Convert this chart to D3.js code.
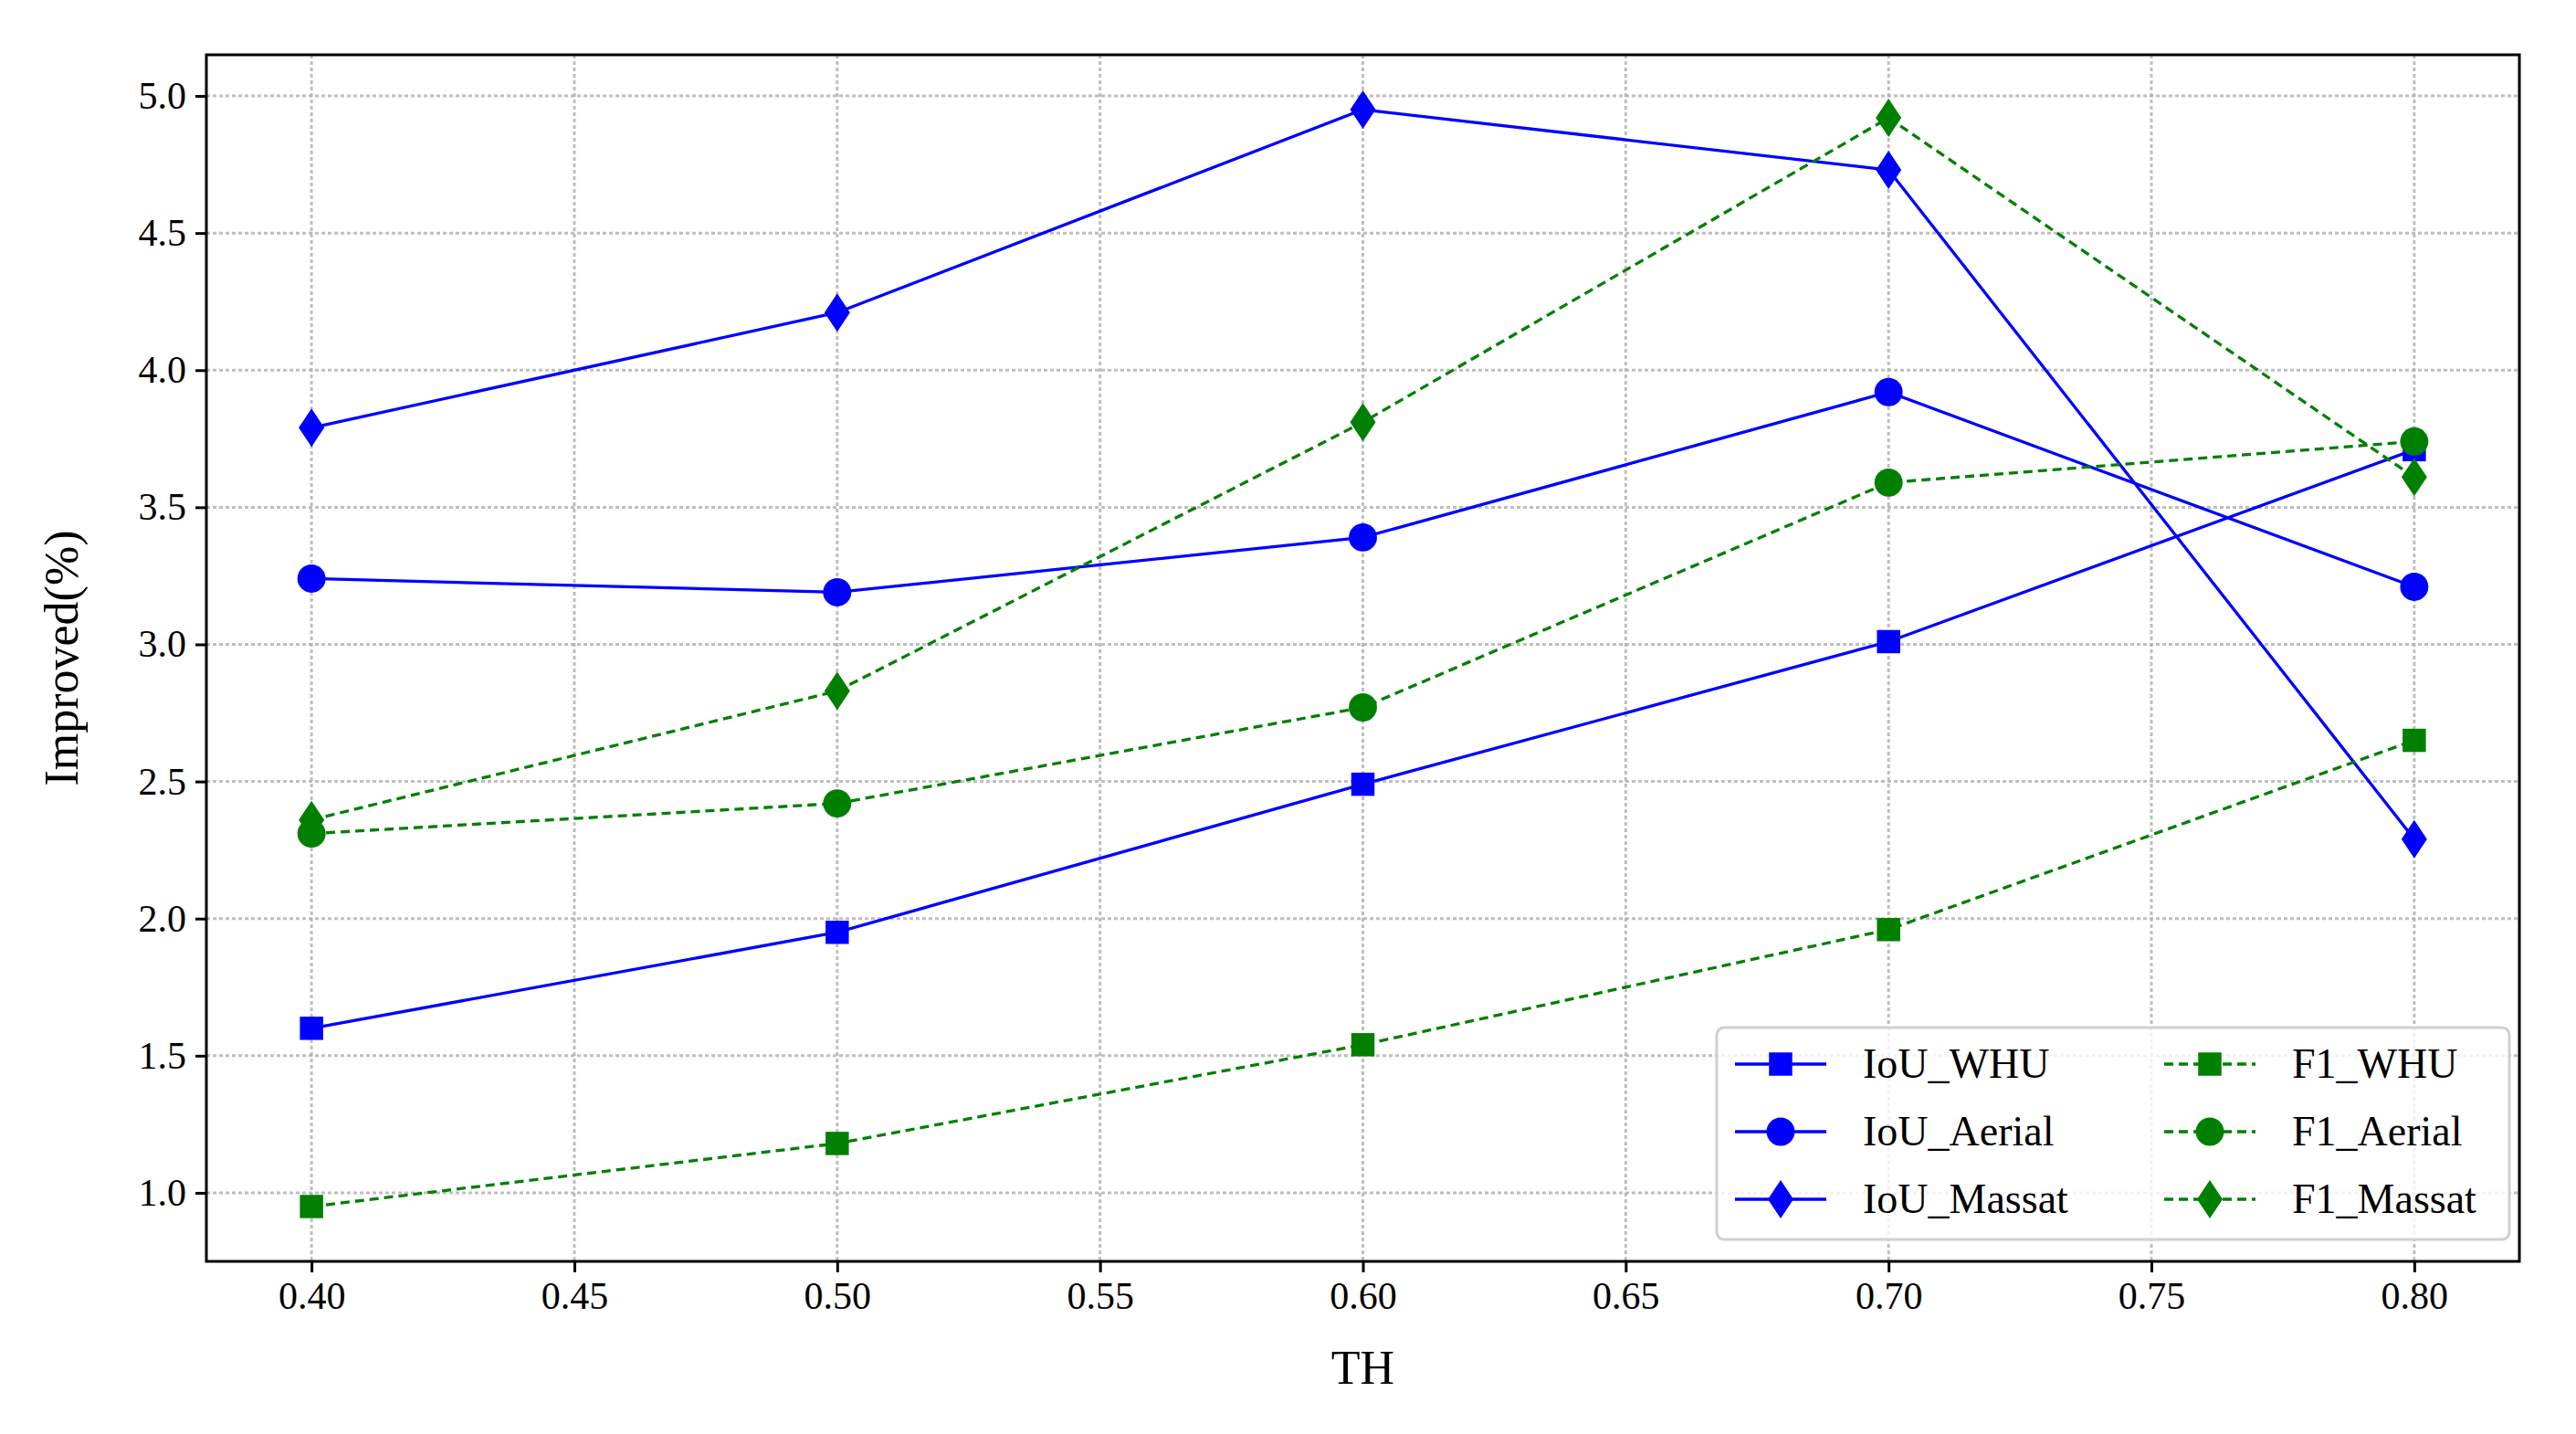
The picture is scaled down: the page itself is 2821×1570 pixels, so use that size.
<!DOCTYPE html>
<html><head><meta charset="utf-8">
<script src="https://cdn.jsdelivr.net/npm/d3@7"></script>
<style>body{margin:0;background:#fff}text{font-family:"Liberation Serif",serif}</style>
</head><body><svg id="c" width="2821" height="1570"></svg>
<script>
const thresholds = [0.40, 0.50, 0.60, 0.70, 0.80];
const iouWHU = [1.60, 1.95, 2.49, 3.01, 3.71];
const iouAerial = [3.24, 3.19, 3.39, 3.92, 3.21];
const iouMassat = [3.79, 4.21, 4.95, 4.73, 2.29];
const f1WHU = [0.95, 1.18, 1.54, 1.96, 2.65];
const f1Aerial = [2.31, 2.42, 2.77, 3.59, 3.74];
const f1Massat = [2.36, 2.83, 3.81, 4.92, 3.61];
const xTicks = [0.40,0.45,0.50,0.55,0.60,0.65,0.70,0.75,0.80];
const yTicks = [1.0,1.5,2.0,2.5,3.0,3.5,4.0,4.5,5.0];

const series = [
 {name:"IoU_WHU", v:iouWHU, c:"#0000ff", m:"square", dash:null},
 {name:"IoU_Aerial", v:iouAerial, c:"#0000ff", m:"circle", dash:null},
 {name:"IoU_Massat", v:iouMassat, c:"#0000ff", m:"diamond", dash:null},
 {name:"F1_WHU", v:f1WHU, c:"#008000", m:"square", dash:"10,6"},
 {name:"F1_Aerial", v:f1Aerial, c:"#008000", m:"circle", dash:"10,6"},
 {name:"F1_Massat", v:f1Massat, c:"#008000", m:"diamond", dash:"10,6"},
];
const L=226,R=2759,T=60,B=1381;
const svg=d3.select("#c");
const x=d3.scaleLinear().domain([0.38,0.82]).range([L,R]);
const y=d3.scaleLinear().domain([0.75,5.15]).range([B,T]);

const g=svg.append("g");
g.selectAll(".gx").data(xTicks).join("line").attr("x1",d=>x(d)).attr("x2",d=>x(d)).attr("y1",T).attr("y2",B)
 .attr("stroke","#b0b0b0").attr("stroke-width",3).attr("stroke-dasharray","4,3").attr("opacity",0.8);
g.selectAll(".gy").data(yTicks).join("line").attr("y1",d=>y(d)).attr("y2",d=>y(d)).attr("x1",L).attr("x2",R)
 .attr("stroke","#b0b0b0").attr("stroke-width",3).attr("stroke-dasharray","4,3").attr("opacity",0.8);

const xa=svg.append("g").attr("transform",`translate(0,${B})`).call(d3.axisBottom(x).tickValues(xTicks).tickFormat(d3.format(".2f")).tickSize(12).tickPadding(10));
const ya=svg.append("g").attr("transform",`translate(${L},0)`).call(d3.axisLeft(y).tickValues(yTicks).tickFormat(d3.format(".1f")).tickSize(12).tickPadding(10));
[xa,ya].forEach(a=>{a.select(".domain").remove();a.selectAll("line").attr("stroke","#000").attr("stroke-width",3);a.selectAll("text").style("font-family","Liberation Serif").attr("font-size",42).attr("fill","#000");});
svg.append("rect").attr("x",L).attr("y",T).attr("width",R-L).attr("height",B-T).attr("fill","none").attr("stroke","#000").attr("stroke-width",3);

svg.append("text").attr("x",(L+R)/2).attr("y",1515).attr("text-anchor","middle").attr("font-size",52).text("TH");
svg.append("text").attr("transform",`translate(85,${(T+B)/2}) rotate(-90)`).attr("text-anchor","middle").attr("font-size",52).text("Improved(%)");

const sym={square:d3.symbolSquare,circle:d3.symbolCircle};
function marker(sel,m,c){
  if(m==="diamond") return sel.append("path").attr("d","M0,-21L14,0L0,21L-14,0Z").attr("fill",c);
  return sel.append("path").attr("d",d3.symbol(sym[m]).size(m==="square"?650:750)()).attr("fill",c);
}
const line=d3.line().x((d,i)=>x(thresholds[i])).y(d=>y(d));
series.forEach(s=>{
  svg.append("path").attr("d",line(s.v)).attr("fill","none").attr("stroke",s.c).attr("stroke-width",3.3).attr("stroke-dasharray",s.dash);
  s.v.forEach((v,i)=>{marker(svg.append("g").attr("transform",`translate(${x(thresholds[i])},${y(v)})`),s.m,s.c);});
});

const lx=1880,ly=1125;
svg.append("rect").attr("x",lx).attr("y",ly).attr("width",868).attr("height",232).attr("rx",8).attr("fill","#fff").attr("fill-opacity",0.8).attr("stroke","#d0d0d0").attr("stroke-width",3);
series.forEach((s,i)=>{
  const col=Math.floor(i/3),row=i%3;
  const bx=lx+20+col*470, by=ly+40+row*74;
  const lg=svg.append("g");
  lg.append("line").attr("x1",bx).attr("x2",bx+100).attr("y1",by).attr("y2",by).attr("stroke",s.c).attr("stroke-width",3.3).attr("stroke-dasharray",s.dash);
  marker(lg.append("g").attr("transform",`translate(${bx+50},${by})`),s.m,s.c);
  lg.append("text").attr("x",bx+140).attr("y",by+15).attr("font-size",46).text(s.name);
});
</script></body></html>
